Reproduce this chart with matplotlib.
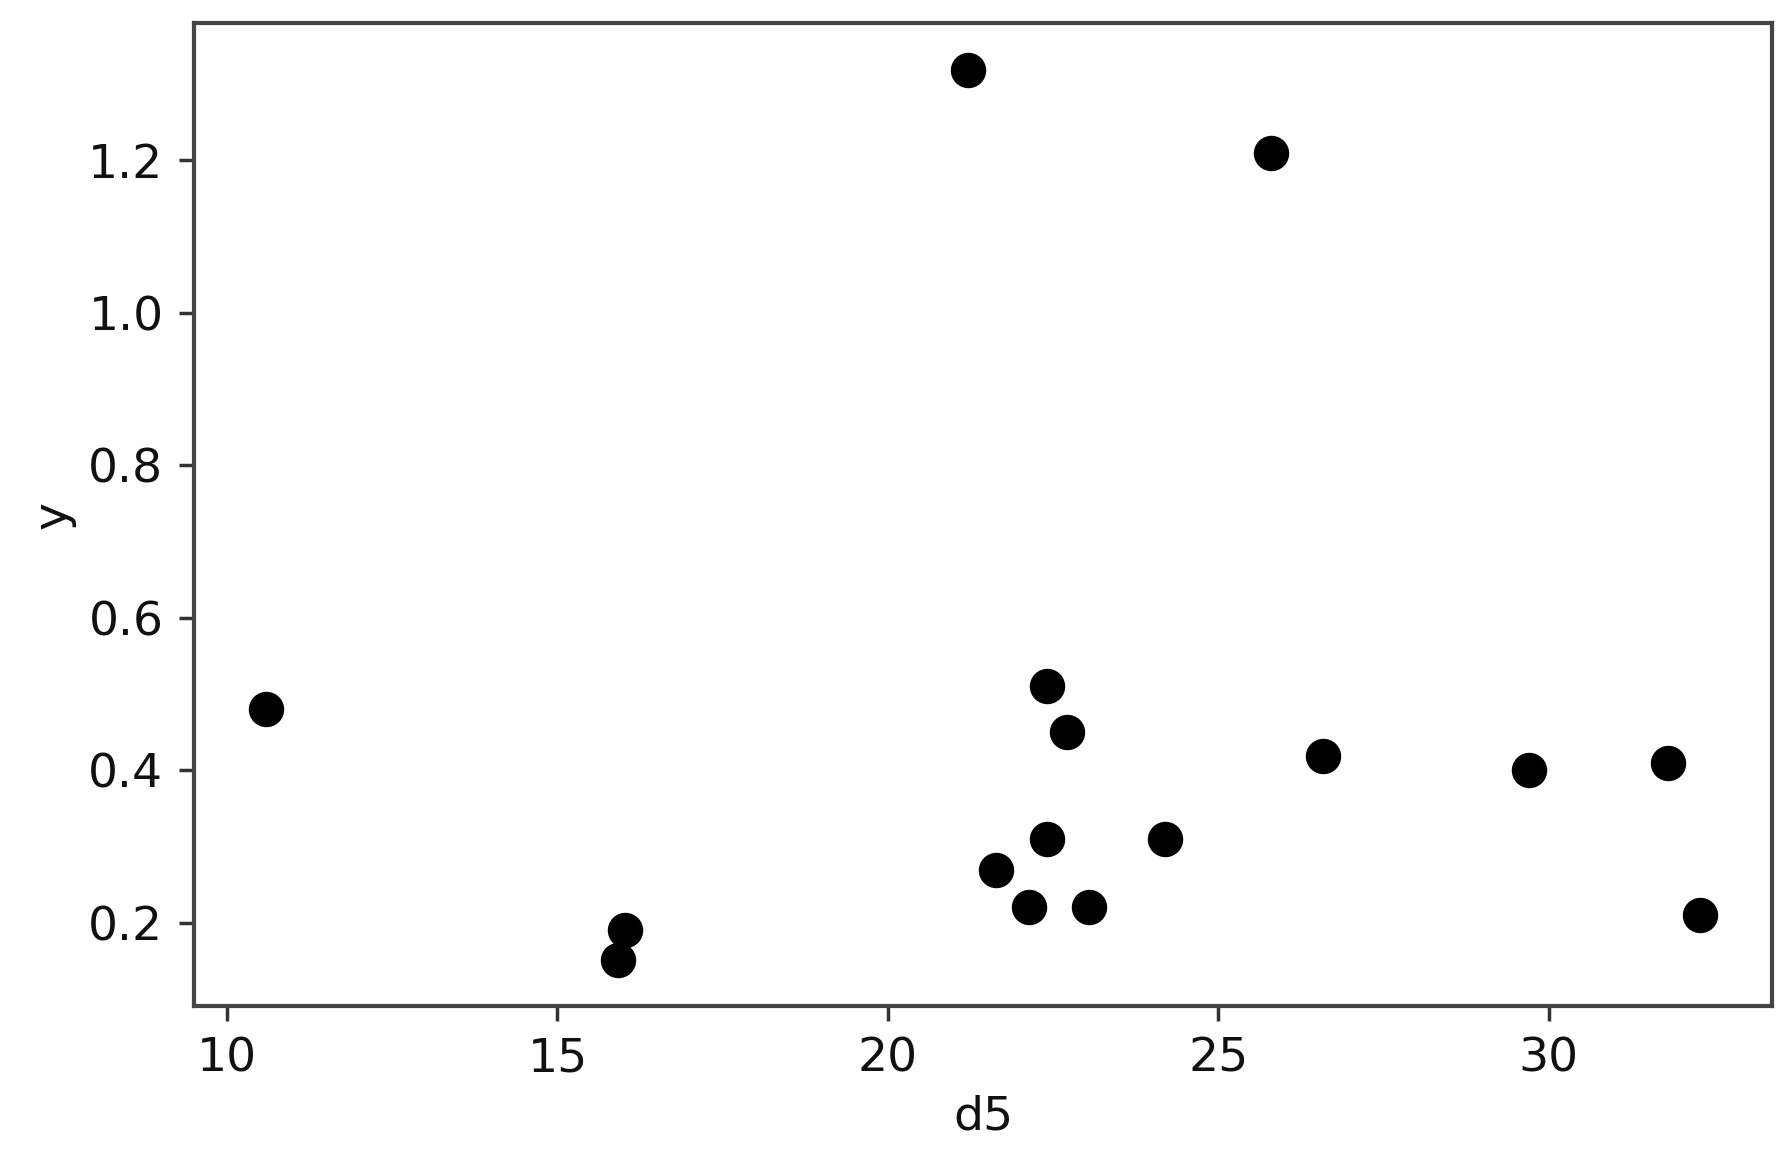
import matplotlib
matplotlib.use("Agg")
import matplotlib.pyplot as plt

d5 = [10.59, 15.92, 16.02, 21.21, 21.63, 22.13, 22.40, 22.40, 22.71, 23.04, 24.20, 25.80, 26.59, 29.70, 31.80, 32.29]
y = [0.48, 0.151, 0.191, 1.318, 0.27, 0.221, 0.51, 0.31, 0.45, 0.221, 0.31, 1.209, 0.419, 0.40, 0.41, 0.21]
xticks = [10, 15, 20, 25, 30]
yticks = [0.2, 0.4, 0.6, 0.8, 1.0, 1.2]

fig = plt.figure(figsize=(17.9, 11.53), dpi=100)
ax = fig.add_axes([0.1084, 0.1275, 0.99 - 0.1084, 0.980 - 0.1275])
ax.scatter(d5, y, s=600, color="black", zorder=3)
ax.set_xlim(9.5, 33.38)
ax.set_ylim(0.0912, 1.3796)
ax.set_xticks(xticks)
ax.set_yticks(yticks)
ax.set_yticklabels([f"{v:.1f}" for v in yticks])
ax.tick_params(labelsize=34, length=11, width=2.5, pad=11, color="#333333", labelcolor="#111111")
for sp in ax.spines.values():
    sp.set_linewidth(3)
    sp.set_color("#444444")
ax.set_xlabel("d5", fontsize=34, labelpad=9, color="#111111")
ax.set_ylabel("y", fontsize=34, labelpad=9, color="#111111")
fig.savefig("out.png", dpi=100)
